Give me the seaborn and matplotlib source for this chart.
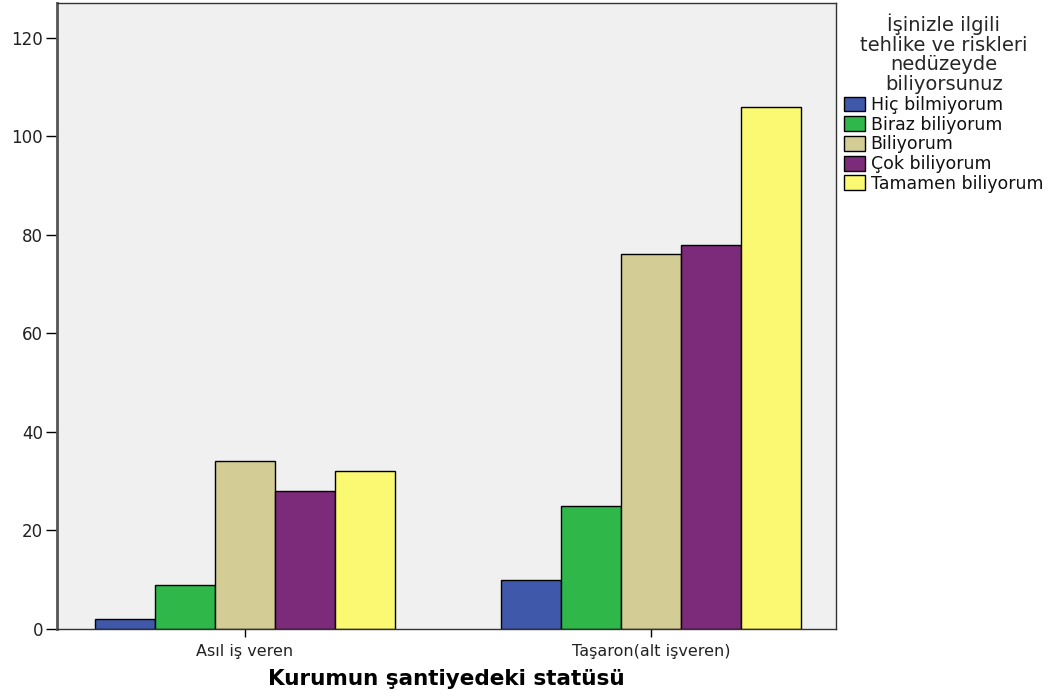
import matplotlib
matplotlib.use("Agg")
import matplotlib.pyplot as plt
import seaborn as sns
import pandas as pd

categories = ["Asıl iş veren", "Taşaron(alt işveren)"]
levels = ["Hiç bilmiyorum", "Biraz biliyorum", "Biliyorum", "Çok biliyorum", "Tamamen biliyorum"]
values_asil = [2, 9, 34, 28, 32]
values_taseron = [10, 25, 76, 78, 106]
colors = ["#3F58AA", "#2FB74A", "#D3CD95", "#7C2A7A", "#FBF872"]
yticks = [0, 20, 40, 60, 80, 100, 120]

rows = []
for lvl, v in zip(levels, values_asil):
    rows.append({"cat": categories[0], "lvl": lvl, "n": v})
for lvl, v in zip(levels, values_taseron):
    rows.append({"cat": categories[1], "lvl": lvl, "n": v})
df = pd.DataFrame(rows)

sns.set_style("white")
plt.rcParams["font.family"] = ["DejaVu Sans"]

fig = plt.figure(figsize=(10.49, 6.97), dpi=100)
ax = fig.add_axes([57/1049, 1 - 629/697, (836 - 57)/1049, (629 - 3)/697])
ax.set_facecolor("#F0F0F0")

sns.barplot(data=df, x="cat", y="n", hue="lvl", order=categories, hue_order=levels,
            palette=colors, edgecolor="black", linewidth=1.0, width=0.74,
            saturation=1, ax=ax, legend=True)

ax.set_xlim(-0.463, 1.456)
ax.set_ylim(0, 127)
ax.set_yticks(yticks)
ax.set_yticklabels([str(t) for t in yticks], fontsize=12, color="#222222")
for lab in ax.get_xticklabels():
    lab.set_fontsize(11.5)
    lab.set_color("#222222")
ax.tick_params(axis="x", length=6, width=1, direction="out", bottom=True, color="black", pad=5)
ax.tick_params(axis="y", length=8, width=1, direction="out", left=True, color="black", pad=2)
ax.set_ylabel("")
ax.set_xlabel("Kurumun şantiyedeki statüsü", fontsize=15.5, fontweight="bold", labelpad=7, color="black")

for side, sp in ax.spines.items():
    sp.set_visible(True)
    sp.set_color("#333333")
    sp.set_linewidth(1.0)
ax.spines["left"].set_linewidth(2.0)
ax.spines["left"].set_color("#555555")

handles, labels = ax.get_legend_handles_labels()
if ax.legend_:
    ax.legend_.remove()
leg = fig.legend(handles, labels,
                 title="İşinizle ilgili\ntehlike ve riskleri\nnedüzeyde\nbiliyorsunuz",
                 loc="upper left", bbox_to_anchor=(841/1049, 1 - 10/697),
                 frameon=False, fontsize=12.5, title_fontsize=14,
                 handlelength=1.2, handleheight=0.95, handletextpad=0.3,
                 labelspacing=0.1, borderpad=0.2, borderaxespad=0)
leg._legend_box.align = "center"
leg.get_title().set_multialignment("center")
leg.get_title().set_linespacing(1.05)
for t in leg.get_texts():
    t.set_color("#111111")
for h in leg.legend_handles:
    h.set_edgecolor("black")
    h.set_linewidth(1.0)

fig.savefig("out.png", dpi=100, facecolor="white")
